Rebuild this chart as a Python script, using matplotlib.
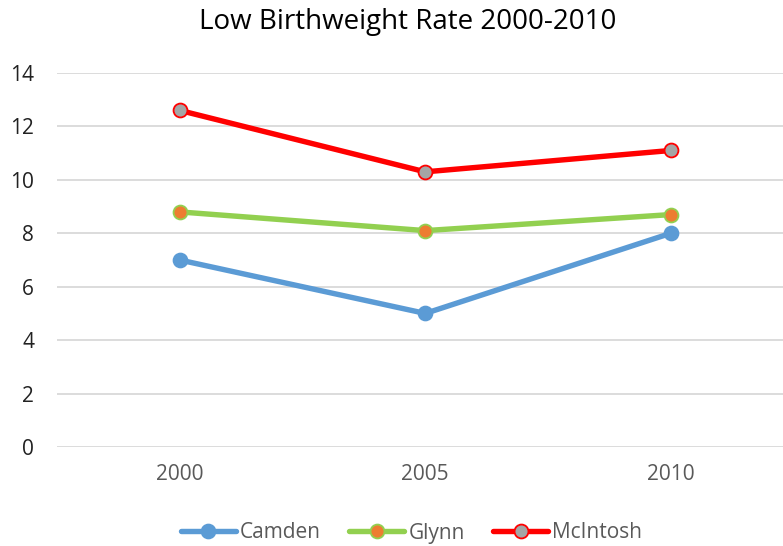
import matplotlib
matplotlib.use("Agg")
import matplotlib.pyplot as plt

years = ["2000", "2005", "2010"]
camden = [7.0, 5.0, 8.0]
glynn = [8.8, 8.1, 8.7]
mcintosh = [12.6, 10.3, 11.1]
yticks = [0, 2, 4, 6, 8, 10, 12, 14]

plt.rcParams['font.family'] = ['Open Sans', 'DejaVu Sans']

fig = plt.figure(figsize=(7.83, 5.46), dpi=100)
W, H = 783, 546
left_px, right_px = 57, 783
top_px, bot_px = 73, 447
ax = fig.add_axes([left_px / W, 1 - bot_px / H, (right_px - left_px) / W, (bot_px - top_px) / H])

x = list(range(len(years)))
spacing = 245.5
ax.set_xlim(-0.5, -0.5 + (right_px - left_px) / spacing)
ax.set_ylim(0, 14)

series = [
    ("Camden", camden, "#5B9BD5", "#5B9BD5", "#5B9BD5"),
    ("Glynn", glynn, "#92D050", "#ED7D31", "#92D050"),
    ("McIntosh", mcintosh, "#FF0000", "#A5A5A5", "#FF0000"),
]
handles = []
for name, vals, lc, fc, ec in series:
    h, = ax.plot(x, vals, color=lc, lw=3.9, marker="o", markersize=10,
                 markerfacecolor=fc, markeredgecolor=ec, markeredgewidth=1.3,
                 solid_capstyle="round", zorder=3, label=name)
    handles.append(h)

ax.set_yticks(yticks)
ax.set_xticks(x)
ax.set_xticklabels(years)
ax.grid(axis="y", color="#D9D9D9", lw=1.3)
ax.set_axisbelow(True)
for s in ax.spines.values():
    s.set_visible(False)
ax.tick_params(axis="both", length=0, labelsize=15, colors="#595959")
ax.tick_params(axis="y", pad=16.5)
ax.tick_params(axis="x", pad=12)
for lab in ax.get_yticklabels():
    lab.set_color("#222222")

fig.text(408 / W, 1 - 22 / H, "Low Birthweight Rate 2000-2010", ha="center", va="center",
         fontsize=20, color="#000000")

leg = fig.legend(handles=handles, loc="center", bbox_to_anchor=(411.5 / W, 1 - 533 / H),
                 ncol=3, frameon=False, fontsize=15, handlelength=2.65,
                 columnspacing=1.35, handletextpad=0.2, labelcolor="#595959",
                 borderpad=0, borderaxespad=0)

fig.savefig("out.png", dpi=100)
